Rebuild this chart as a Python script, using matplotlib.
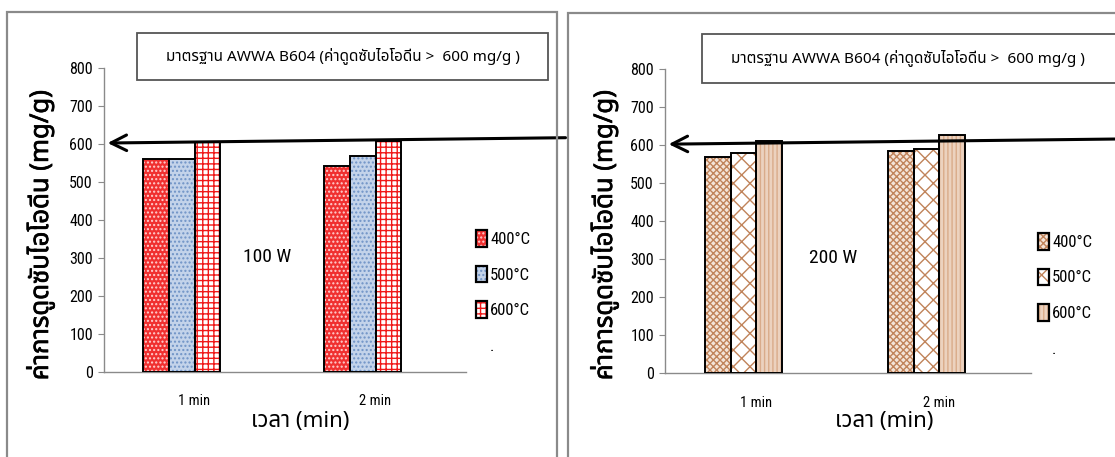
import matplotlib
matplotlib.use("Agg")
import matplotlib.pyplot as plt
import matplotlib.font_manager as fm
import matplotlib.patheffects as pe
from matplotlib import ft2font
from matplotlib.patches import Rectangle, Patch
import numpy as np

# ---------------- data ----------------
categories = ["1 min", "2 min"]
series_labels = ["400°C", "500°C", "600°C"]
vals_100W = {"400°C": [562, 543], "500°C": [561, 568], "600°C": [605, 607]}
vals_200W = {"400°C": [570, 585], "500°C": [581, 589], "600°C": [612, 628]}
panel_labels = ["100 W", "200 W"]
standard_value = 600
y_ticks = [0, 100, 200, 300, 400, 500, 600, 700, 800]
title_text = "มาตรฐาน AWWA B604 (ค่าดูดซับไอโอดีน >  600 mg/g )"
ylabel_text = "ค่าการดูดซับไอโอดีน (mg/g)"
xlabel_text = "เวลา (min)"

# ---------------- fonts ----------------
def find_font(codepoint, prefer=()):
    names = []
    for f in fm.fontManager.ttflist:
        try:
            cm = ft2font.FT2Font(f.fname).get_charmap()
        except Exception:
            continue
        if codepoint in cm and f.name not in names:
            names.append(f.name)
    for p in prefer:
        if p in names:
            return p
    return names[0] if names else None

thai = find_font(0x0E01, prefer=("Noto Sans Thai", "Noto Sans Thai UI", "Loma", "Garuda"))
families = ([thai] if thai else []) + ["DejaVu Sans"]
narrow = ["Liberation Sans Narrow", "Roboto Condensed", "Lato", "DejaVu Sans"]
plt.rcParams["font.family"] = families
plt.rcParams["hatch.linewidth"] = 1.0

W, H = 1115, 457
fig = plt.figure(figsize=(W / 100, H / 100), dpi=100)

def fx(px):
    return px / W

def fy(py):
    return 1 - py / H

# panel frames
frame_col = "#8a8a8a"
fig.patches.append(Rectangle((fx(7), fy(470)), fx(557 - 7), (470 - 12) / H, transform=fig.transFigure,
                             fill=False, edgecolor=frame_col, lw=1.6, zorder=0))
fig.patches.append(Rectangle((fx(568), fy(470)), fx(1125 - 568), (470 - 13) / H, transform=fig.transFigure,
                             fill=False, edgecolor=frame_col, lw=1.6, zorder=0))

styles_100 = {
    "400°C": dict(face="#f03030", hatch="....", hcol="#ffd0d0"),
    "500°C": dict(face="#c3d3ea", hatch="....", hcol="#6f93c6"),
    "600°C": dict(face="#ffffff", hatch="+++", hcol="#f01818"),
}
styles_200 = {
    "400°C": dict(face="#f4e4d8", hatch="xxxxx", hcol="#c0835a"),
    "500°C": dict(face="#ffffff", hatch="xx", hcol="#c0835a"),
    "600°C": dict(face="#ecd2bf", hatch="||||", hcol="#d9ab8a"),
}

panels = [
    dict(rect=[fx(104), fy(371.7), fx(466 - 104), (371.7 - 68.3) / H], vals=vals_100W, styles=styles_100,
         label=panel_labels[0], box=(137, 33, 548, 80), ylab_x=41, xlab_x=300,
         leg=(461, 215), lab_x=0.40),
    dict(rect=[fx(665), fy(373.3), fx(1031 - 665), (373.3 - 69.3) / H], vals=vals_200W, styles=styles_200,
         label=panel_labels[1], box=(702, 34, 1125, 83), ylab_x=605, xlab_x=884,
         leg=(1023, 218), lab_x=0.42),
]

x = np.arange(len(categories))
w = 0.141
n_slots = 4  # three series plus an empty fourth slot (as in source chart)

for p in panels:
    ax = fig.add_axes(p["rect"])
    for i, s in enumerate(series_labels):
        off = (i - (n_slots - 1) / 2) * w
        st = p["styles"][s]
        ax.bar(x + off, p["vals"][s], w, color=st["face"], hatch=st["hatch"], edgecolor=st["hcol"],
               linewidth=0, zorder=2)
        ax.bar(x + off, p["vals"][s], w, fill=False, edgecolor="black", linewidth=1.4, zorder=3)
    ax.set_xlim(-0.5, len(categories) - 0.5)
    ax.set_ylim(0, 800)
    ax.set_yticks(y_ticks)
    ax.set_xticks(x)
    ax.set_xticklabels(categories, fontsize=10.5, family=narrow)
    ax.set_yticklabels([str(t) for t in y_ticks], fontsize=11.5, family=narrow)
    for sp in ["top", "right"]:
        ax.spines[sp].set_visible(False)
    for sp in ["left", "bottom"]:
        ax.spines[sp].set_color("#8a8a8a")
        ax.spines[sp].set_linewidth(1.0)
    ax.tick_params(axis="y", length=4, color="#8a8a8a", pad=4)
    ax.tick_params(axis="x", length=0, pad=16)
    ax.patch.set_alpha(0)

    # standard arrow
    ax.annotate("", xy=(-0.5 + 0.02, standard_value + 3), xycoords="data",
                xytext=(len(categories) - 0.5 + 0.55, standard_value + 17), textcoords="data",
                arrowprops=dict(arrowstyle="->", lw=2.2, color="black", mutation_scale=28,
                                shrinkA=0, shrinkB=0),
                annotation_clip=False, zorder=5)

    ax.text(p["lab_x"], 303, p["label"], ha="center", va="center", fontsize=14, family=narrow)

    # legend
    handles = []
    for s in series_labels:
        st = p["styles"][s]
        handles.append((Patch(facecolor=st["face"], hatch=st["hatch"], edgecolor=st["hcol"], linewidth=0),
                        Patch(facecolor="none", edgecolor="black", linewidth=1.6)))
    handles.append(Patch(facecolor="none", edgecolor="none"))
    fig.legend(handles, series_labels + ["."], loc="upper left",
               bbox_to_anchor=(fx(p["leg"][0]), fy(p["leg"][1])), frameon=False,
               handlelength=0.65, handleheight=1.15, handletextpad=0.2,
               labelspacing=1.12, prop={"family": narrow, "size": 12})

    # title box
    bx0, by0, bx1, by1 = p["box"]
    fig.patches.append(Rectangle((fx(bx0), fy(by1)), fx(bx1 - bx0), (by1 - by0) / H,
                                 transform=fig.transFigure, fill=True, facecolor="white",
                                 edgecolor="#555555", lw=1.3, zorder=1))
    fig.text(fx((bx0 + min(bx1, 1113)) / 2), fy((by0 + by1) / 2), title_text, ha="center", va="center",
             fontsize=11)

    fig.text(fx(p["ylab_x"]), fy(235), ylabel_text, rotation=90, ha="center", va="center",
             fontsize=18.5, fontweight="bold",
             path_effects=[pe.withStroke(linewidth=0.5, foreground="black")])
    fig.text(fx(p["xlab_x"]), fy(421), xlabel_text, ha="center", va="center", fontsize=16)

fig.savefig("out.png", dpi=100, facecolor="white")
